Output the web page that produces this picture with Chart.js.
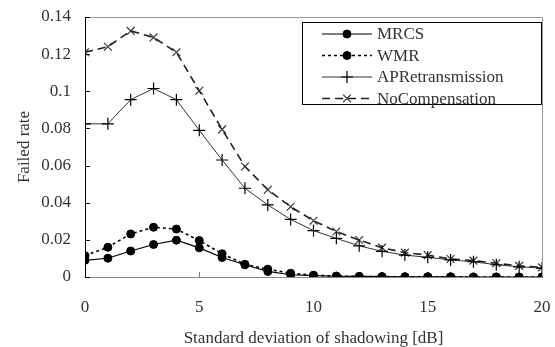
<!DOCTYPE html>
<html><head><meta charset="utf-8">
<script src="https://cdn.jsdelivr.net/npm/chart.js@4/dist/chart.umd.min.js"></script>
<style>html,body{margin:0;padding:0;background:#fff;overflow:hidden}</style>
</head><body>
<canvas id="c" width="555" height="347"></canvas>
<script>
// ---- data ----
const xValues = [0,1,2,3,4,5,6,7,8,9,10,11,12,13,14,15,16,17,18,19,20];
const seriesNames = ['MRCS','WMR','APRetransmission','NoCompensation'];
const mrcs = [0.009,0.0101,0.014,0.0175,0.0198,0.0157,0.0105,0.0066,0.003,0.0012,0.0007,0.0004,0.0003,0.0002,0.0001,0.0001,0.0001,0,0,0,0];
const wmr  = [0.0115,0.016,0.0232,0.0268,0.0258,0.0196,0.0125,0.0068,0.0042,0.002,0.001,0.0005,0.0003,0.0002,0.0001,0.0001,0.0001,0,0,0,0];
const apr  = [0.0825,0.0825,0.0955,0.1015,0.0955,0.079,0.063,0.0478,0.0388,0.031,0.025,0.0208,0.0168,0.0138,0.0118,0.0106,0.0092,0.0082,0.0066,0.0055,0.0048];
const noComp = [0.121,0.124,0.1325,0.129,0.121,0.1003,0.0795,0.0595,0.047,0.0378,0.0303,0.0245,0.0199,0.0158,0.0131,0.0118,0.0097,0.0088,0.0074,0.006,0.0052];
const xTickValues = [0,5,10,15,20];
const yTickValues = [0,0.02,0.04,0.06,0.08,0.1,0.12,0.14];
const xTitle = 'Standard deviation of shadowing [dB]';
const yTitle = 'Failed rate';

const FONT = {family:"'Liberation Serif','Times New Roman',serif", size:17};
const TITLE_FONT_X = {family:FONT.family, size:17, lineHeight:0.95};
const TXT = '#333';
const pts = arr => xValues.map((x,i)=>({x:x,y:arr[i]}));

const styles = [
  {borderColor:'#000', borderWidth:1.2, borderDash:[], pointStyle:'circle', pointRadius:4, pointBackgroundColor:'#000', pointBorderColor:'#000', pointBorderWidth:1},
  {borderColor:'#000', borderWidth:1.6, borderDash:[3,3], pointStyle:'circle', pointRadius:4, pointBackgroundColor:'#000', pointBorderColor:'#000', pointBorderWidth:1},
  {borderColor:'#333', borderWidth:1, borderDash:[], pointStyle:'cross', pointRadius:6, pointBackgroundColor:'#000', pointBorderColor:'#000', pointBorderWidth:1.2},
  {borderColor:'#222', borderWidth:1.6, borderDash:[8,5], pointStyle:'crossRot', pointRadius:5.5, pointBackgroundColor:'#333', pointBorderColor:'#333', pointBorderWidth:1.2}
];
const allData = [mrcs, wmr, apr, noComp];
const datasets = allData.map((d,i)=>Object.assign({label:seriesNames[i], data:pts(d), fill:false, tension:0}, styles[i]));

const framePlugin = {
  id:'frame',
  beforeDatasetsDraw(chart){
    const {ctx, chartArea:a, scales:{x,y}} = chart;
    ctx.save();
    ctx.lineWidth = 1;
    ctx.strokeStyle = '#9a9a9a';
    ctx.beginPath();
    ctx.moveTo(a.left, a.top+0.5); ctx.lineTo(a.right+0.5, a.top+0.5);
    ctx.moveTo(a.right+0.5, a.top); ctx.lineTo(a.right+0.5, a.bottom);
    ctx.stroke();
    ctx.strokeStyle = '#000';
    ctx.beginPath();
    yTickValues.forEach(v=>{const py=Math.round(y.getPixelForValue(v))+0.5; ctx.moveTo(a.left, py); ctx.lineTo(a.left+5, py);});
    ctx.stroke();
    ctx.strokeStyle = '#777';
    ctx.beginPath();
    xTickValues.slice(1,-1).forEach(v=>{const px=Math.round(x.getPixelForValue(v))+0.5; ctx.moveTo(px, a.bottom); ctx.lineTo(px, a.bottom-5);});
    ctx.stroke();
    ctx.restore();
  },
  afterDraw(chart){
    const ctx = chart.ctx;
    ctx.save();
    const bx=302.5, by=22.5, bw=239, bh=82;
    ctx.fillStyle='#fff'; ctx.fillRect(bx,by,bw,bh);
    ctx.strokeStyle='#000'; ctx.lineWidth=1; ctx.strokeRect(bx,by,bw,bh);
    const rowY = [34, 55.5, 77, 98.5];
    chart.data.datasets.forEach((ds,i)=>{
      const yy = rowY[i];
      ctx.save();
      ctx.strokeStyle = ds.borderColor; ctx.lineWidth = ds.borderWidth;
      ctx.setLineDash(ds.borderDash);
      ctx.beginPath(); ctx.moveTo(322,yy); ctx.lineTo(372,yy); ctx.stroke();
      ctx.setLineDash([]);
      ctx.fillStyle = ds.pointBackgroundColor; ctx.strokeStyle = ds.pointBorderColor; ctx.lineWidth = ds.pointBorderWidth;
      Chart.helpers.drawPoint(ctx, {pointStyle:ds.pointStyle, radius:ds.pointRadius, rotation:0, borderWidth:ds.pointBorderWidth}, 347, yy);
      ctx.restore();
      ctx.fillStyle = TXT; ctx.font = FONT.size+"px "+FONT.family; ctx.textBaseline='middle'; ctx.textAlign='left';
      ctx.fillText(ds.label, 377, yy+1);
    });
    ctx.restore();
  }
};

new Chart(document.getElementById('c'), {
  type:'line',
  data:{datasets:datasets},
  options:{
    responsive:false, animation:false,
    layout:{padding:{left:14, top:17, right:13, bottom:0}},
    plugins:{legend:{display:false}, tooltip:{enabled:false}},
    scales:{
      x:{type:'linear', min:0, max:20,
         ticks:{stepSize:5, padding:20, color:TXT, font:FONT, maxRotation:0},
         afterBuildTicks(s){ s.ticks = xTickValues.map(v=>({value:v})); },
         grid:{drawOnChartArea:false, drawTicks:false},
         border:{color:'#888', width:1},
         title:{display:true, text:xTitle, color:TXT, font:TITLE_FONT_X, padding:0},
         afterFit(s){ s.height = 70; s.paddingLeft = 0; s.paddingRight = 0; }
      },
      y:{min:0, max:0.14,
         ticks:{stepSize:0.02, padding:14, color:TXT, font:FONT, callback:v=>String(+v.toFixed(2))},
         afterBuildTicks(s){ s.ticks = yTickValues.map(v=>({value:v})); },
         grid:{drawOnChartArea:false, drawTicks:false},
         border:{color:'#000', width:1},
         title:{display:true, text:yTitle, color:TXT, font:FONT, padding:0},
         afterFit(s){ s.width = 71; s.paddingTop = 0; s.paddingBottom = 0; }
      }
    }
  },
  plugins:[framePlugin]
});
</script>
</body></html>
